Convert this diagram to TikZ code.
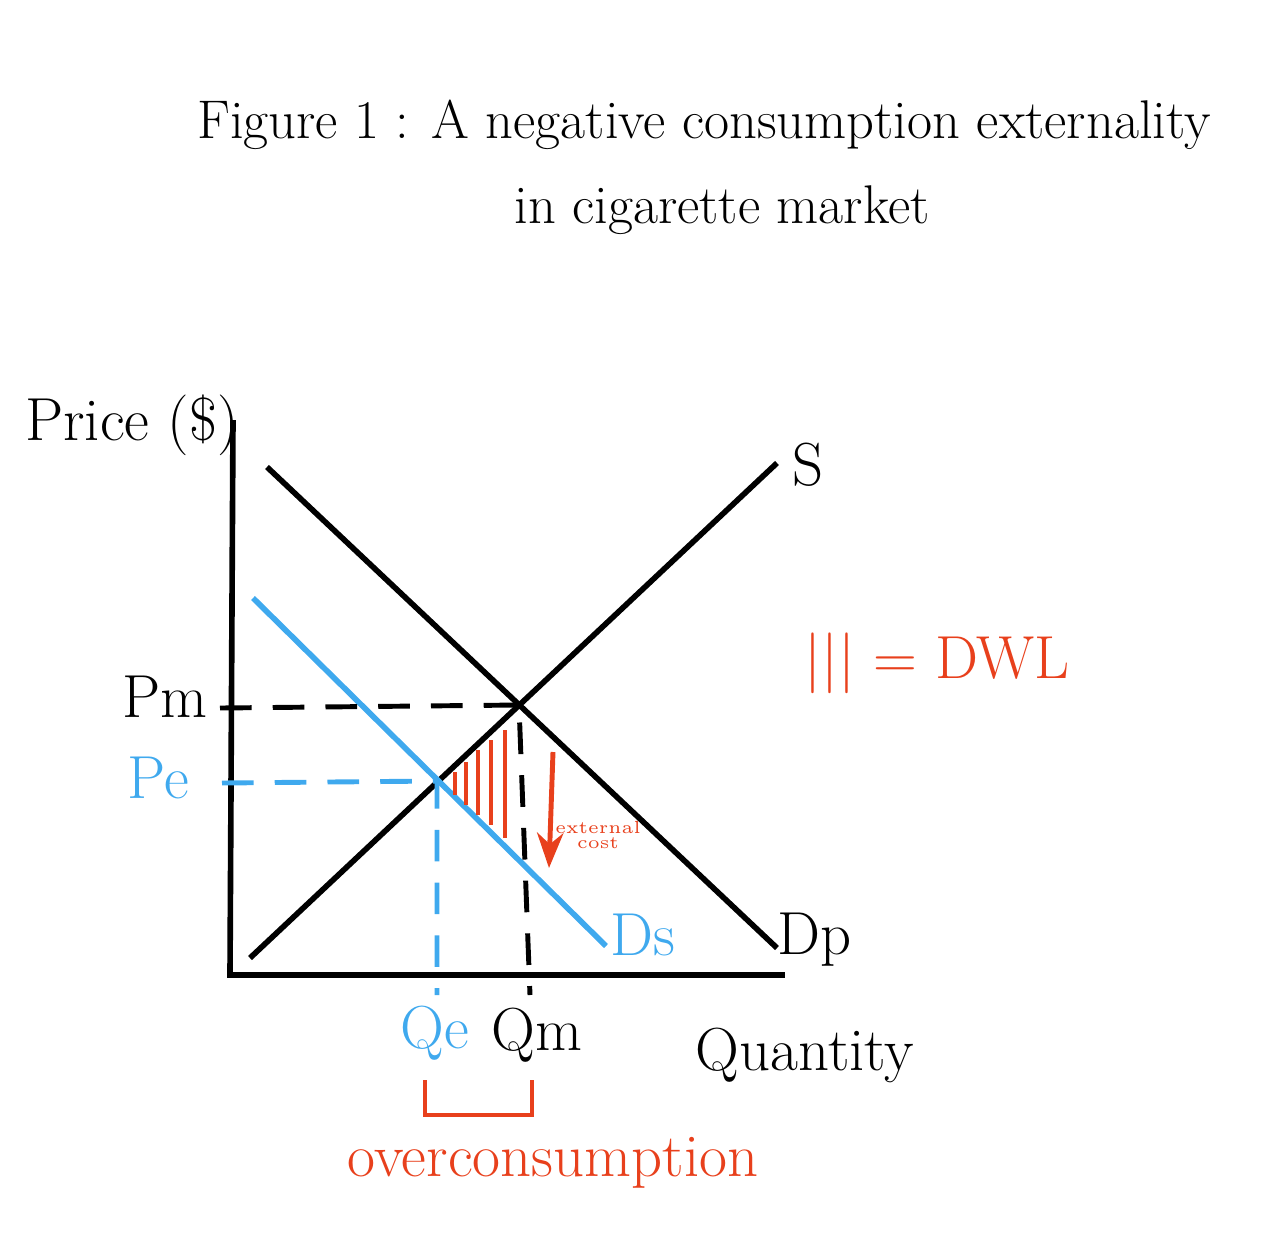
\documentclass[tikz,border=0pt]{standalone}
\usetikzlibrary{arrows.meta}
\definecolor{skyblue}{HTML}{3FA9EE}
\definecolor{redline}{HTML}{E8401C}
\tikzset{
  curve/.style={line width=1.6pt},
  guide/.style={line width=1.4pt,dashed,dash pattern=on 9pt off 6pt},
  lbl/.style={font=\LARGE},
  hatch/.style={redline,line width=1.4pt}
}
\begin{document}
\begin{tikzpicture}[x=0.01cm,y=-0.01cm]
        \useasboundingbox (0,0) rectangle (1262,1253);
        % title
        \node (t1) [font=\fontsize{15.5}{19}\selectfont] at (704,125) {Figure 1 : A negative consumption externality};
        \node (t2) [font=\fontsize{15.5}{19}\selectfont] at (722,210) {in cigarette market};
        % axes and curve ends
        \coordinate (ytop) at (233,420);
        \coordinate (o) at (230,975);
        \coordinate (xend) at (785,975);
        \coordinate (s0) at (250,958);
        \coordinate (s1) at (777,463);
        \coordinate (d0) at (267,467);
        \coordinate (d1) at (777,948);
        \coordinate (b0) at (253,598);
        \coordinate (b1) at (606,946);
        \coordinate (m) at (519,705);
        \coordinate (e) at (437,781);
        \coordinate (pm) at (220,708);
        \coordinate (pe) at (222,783);
        \coordinate (qm) at (530,995);
        \coordinate (qe) at (437,995);
        \draw [curve] (ytop) -- (o) -- (xend);
        \draw [curve] (s0) -- (s1);
        \draw [curve] (d0) -- (d1);
        \draw [curve,skyblue] (b0) -- (b1);
        \draw [guide] (pm) -- (m) -- (qm);
        \draw [guide,skyblue] (pe) -- (e) -- (qe);
        % DWL hatching
        \foreach \x/\a/\b in {455/772/795,466/762/805,478/750/815,491/740/825,505/730/838}
            \draw [hatch] (\x,\a) -- (\x,\b);
        \coordinate (a0) at (553,752);
        \coordinate (a1) at (549,868);
        \draw [redline,line width=1.4pt,-{Stealth[length=10pt]}] (a0) -- (a1);
        \node (ext) [redline,font=\tiny,align=center,inner sep=0pt] at (598,835) {external\\[-2pt]cost};
        % labels
        \node (price) [lbl] at (132,425) {Price (\$)};
        \node (lpm) [lbl] at (165,697) {Pm};
        \node (lpe) [lbl,skyblue] at (158,778) {Pe};
        \node (lqe) [lbl,skyblue] at (435,1033) {Qe};
        \node (lqm) [lbl] at (537,1035) {Qm};
        \node (quant) [lbl] at (805,1055) {Quantity};
        \node (ls) [lbl] at (808,465) {S};
        \node (ldp) [lbl] at (815,940) {Dp};
        \node (lds) [lbl,skyblue] at (643,935) {Ds};
        \node (dwl) [lbl,redline] at (937,663) {||| = DWL};
        % overconsumption bracket
        \coordinate (k0) at (425,1080);
        \coordinate (k1) at (425,1115);
        \coordinate (k2) at (532,1115);
        \coordinate (k3) at (532,1080);
        \draw [hatch] (k0) -- (k1) -- (k2) -- (k3);
        \node (over) [lbl,redline] at (553,1163) {overconsumption};
\end{tikzpicture}
\end{document}
